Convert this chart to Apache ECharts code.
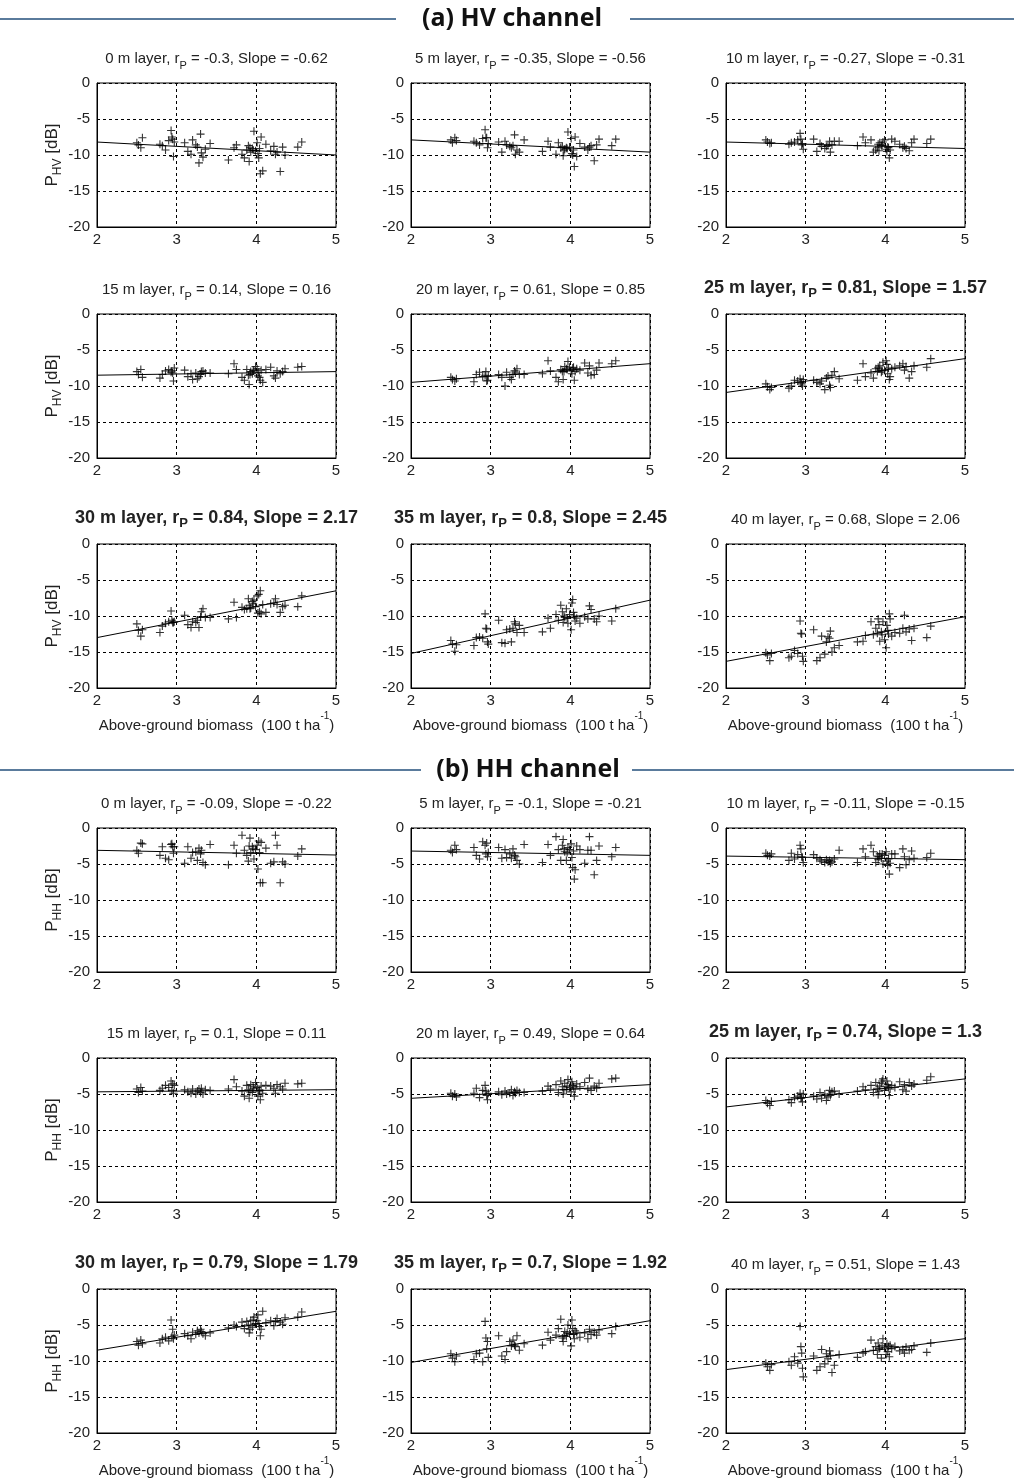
<!DOCTYPE html>
<html>
<head>
<meta charset="utf-8">
<script src="https://cdn.jsdelivr.net/npm/echarts@6/dist/echarts.min.js"></script>
<style>
html,body{margin:0;padding:0;background:#fff;}
#chart{width:1014px;height:1482px;}
</style>
</head>
<body>
<div id="chart"></div>
<script>
// ---------------- DATA ----------------
// Shared above-ground biomass values (100 t/ha) of the sample plots
const biomass = [2.50,2.52,2.55,2.57,2.79,2.82,2.86,2.90,2.93,2.94,2.96,2.97,3.10,3.14,3.18,3.20,3.24,3.26,3.28,3.30,3.31,3.33,3.36,3.42,3.65,3.72,3.75,3.82,3.85,3.88,3.90,3.91,3.93,3.95,3.97,3.99,4.01,4.02,4.03,4.05,4.06,4.08,4.12,4.18,4.22,4.24,4.26,4.30,4.33,4.36,4.52,4.57,3.92,3.96,4.04,2.95];

const layerDepths = [0,5,10,15,20,25,30,35,40];

// HV channel: Pearson r and regression slope per layer
const hvR     = ['-0.3','-0.35','-0.27','0.14','0.61','0.81','0.84','0.8','0.68'];
const hvSlope = ['-0.62','-0.56','-0.31','0.16','0.85','1.57','2.17','2.45','2.06'];
const hvBold  = [false,false,false,false,false,true,true,true,false];
// regression line values at biomass = 2 and biomass = 5
const hvFitAt2 = [-8.2,-7.9,-8.2,-8.5,-9.5,-10.9,-13.0,-15.2,-16.3];
const hvFitAt5 = [-10.0,-9.6,-9.1,-8.0,-6.9,-6.2,-6.5,-7.8,-10.1];

// HH channel
const hhR     = ['-0.09','-0.1','-0.11','0.1','0.49','0.74','0.79','0.7','0.51'];
const hhSlope = ['-0.22','-0.21','-0.15','0.11','0.64','1.3','1.79','1.92','1.43'];
const hhBold  = [false,false,false,false,false,true,true,true,false];
const hhFitAt2 = [-3.1,-3.2,-3.9,-4.7,-5.6,-6.8,-8.5,-10.2,-11.2];
const hhFitAt5 = [-3.75,-3.8,-4.4,-4.4,-3.7,-2.9,-3.1,-4.4,-6.9];

// Backscatter power (dB) per layer, aligned with biomass
const hv0  = [-8.3,-8.6,-9.0,-7.6,-8.5,-8.7,-9.3,-8.0,-6.6,-7.5,-10.2,-8.2,-8.3,-9.5,-9.9,-7.9,-8.6,-8.9,-11.1,-7.1,-9.7,-10.3,-9.2,-8.4,-10.7,-9.0,-8.6,-9.9,-10.4,-9.3,-8.7,-10.9,-9.6,-9.1,-6.7,-9.4,-8.3,-9.8,-10.4,-12.6,-7.5,-12.2,-8.5,-9.4,-8.8,-9.9,-9.6,-12.3,-8.9,-10.0,-8.9,-8.2,-9.0,-9.3,-9.1,-7.8];
const hv5  = [-7.9,-8.3,-7.6,-8.0,-8.1,-8.3,-8.6,-7.7,-6.5,-7.6,-9.0,-8.4,-8.2,-9.6,-8.1,-8.6,-8.8,-9.0,-8.7,-7.2,-9.9,-9.3,-9.6,-7.9,-9.5,-8.1,-8.9,-9.9,-8.3,-9.0,-8.8,-10.1,-9.2,-9.0,-6.8,-8.9,-7.7,-9.8,-10.0,-11.6,-7.5,-10.2,-8.4,-8.9,-9.3,-8.9,-8.7,-10.8,-8.6,-7.8,-8.7,-7.8,-9.4,-9.1,-9.3,-7.6];
const hv10 = [-7.9,-8.2,-8.4,-8.3,-8.5,-8.3,-8.2,-7.9,-7.0,-7.8,-8.4,-9.2,-7.8,-9.5,-8.4,-8.8,-9.1,-8.8,-8.7,-8.1,-9.6,-8.6,-8.1,-8.1,-8.7,-7.5,-8.3,-7.9,-9.6,-9.3,-9.0,-8.5,-8.3,-8.7,-8.2,-7.9,-9.2,-9.5,-8.9,-10.4,-9.3,-7.8,-8.1,-8.5,-9.0,-8.8,-9.1,-9.4,-8.3,-7.8,-8.4,-7.8,-9.4,-8.6,-9.0,-8.6];
const hv15 = [-8.0,-8.4,-7.7,-8.8,-8.9,-8.4,-7.9,-7.7,-8.1,-7.9,-9.3,-7.5,-7.8,-8.7,-8.3,-9.1,-8.2,-9.0,-8.7,-8.4,-8.0,-7.9,-8.2,-8.2,-8.3,-6.9,-7.7,-8.8,-9.2,-7.7,-8.5,-9.8,-8.0,-8.3,-7.8,-7.3,-7.6,-8.6,-8.1,-9.2,-7.8,-9.5,-7.7,-7.4,-8.6,-8.9,-7.9,-8.3,-8.0,-7.6,-7.4,-7.3,-8.4,-7.9,-8.8,-8.2];
const hv20 = [-8.8,-9.1,-9.3,-9.0,-9.4,-8.4,-8.1,-8.7,-8.5,-8.0,-9.2,-8.6,-8.4,-8.8,-10.0,-8.1,-8.8,-9.1,-8.4,-7.9,-8.2,-7.6,-8.4,-8.4,-8.3,-6.5,-7.9,-8.8,-9.4,-7.7,-8.0,-9.1,-7.3,-7.6,-6.6,-7.4,-7.9,-8.3,-7.5,-9.2,-8.0,-7.6,-7.8,-6.8,-8.2,-7.2,-8.5,-8.4,-7.8,-6.8,-6.9,-6.5,-8.0,-7.7,-7.4,-9.3];
const hv25 = [-9.7,-10.1,-10.5,-10.2,-10.3,-10.0,-9.2,-9.3,-9.0,-9.5,-10.0,-9.1,-9.2,-9.5,-9.7,-9.3,-10.5,-8.9,-8.6,-9.9,-10.2,-8.5,-8.0,-9.0,-9.2,-6.9,-8.7,-8.2,-8.9,-7.6,-8.0,-7.4,-7.2,-8.1,-6.7,-7.8,-6.5,-7.0,-8.3,-9.1,-8.7,-7.6,-7.4,-7.2,-6.9,-7.8,-7.3,-8.9,-8.0,-7.2,-7.4,-6.2,-7.6,-7.9,-7.5,-9.7];
const hv30 = [-11.1,-12.0,-12.8,-11.9,-12.3,-11.4,-11.0,-10.8,-9.3,-10.6,-10.9,-10.8,-9.9,-11.2,-11.6,-10.8,-10.9,-10.6,-11.6,-10.1,-9.4,-9.0,-10.2,-10.2,-10.4,-8.1,-10.2,-8.8,-9.1,-9.0,-7.6,-8.5,-8.9,-8.0,-7.8,-8.7,-7.2,-9.6,-7.0,-6.5,-9.7,-8.4,-9.5,-8.3,-8.2,-7.6,-8.4,-9.5,-8.7,-8.5,-8.7,-7.2,-9.0,-8.3,-9.4,-10.9];
const hv35 = [-13.4,-13.9,-14.9,-14.0,-14.1,-13.0,-12.9,-13.1,-9.7,-11.7,-13.6,-13.9,-10.6,-13.7,-13.8,-11.9,-11.8,-13.6,-11.7,-10.8,-11.1,-12.3,-11.3,-12.3,-12.2,-10.3,-11.7,-9.8,-10.6,-8.5,-9.4,-10.9,-10.2,-9.0,-11.0,-9.8,-11.9,-8.2,-7.7,-10.0,-10.7,-10.3,-11.0,-10.1,-10.4,-8.6,-9.1,-10.4,-10.8,-10.0,-10.7,-9.0,-10.0,-10.3,-9.5,-11.8];
const hv40 = [-15.1,-15.4,-16.2,-15.2,-15.8,-15.6,-14.8,-15.2,-10.7,-12.4,-15.6,-16.3,-11.9,-16.2,-15.8,-12.8,-15.3,-13.6,-12.9,-13.1,-12.1,-15.0,-14.4,-14.1,-13.6,-13.5,-12.7,-10.8,-12.6,-11.7,-12.4,-10.4,-13.5,-12.2,-10.8,-13.3,-14.4,-11.3,-12.0,-9.7,-10.4,-12.8,-12.3,-12.4,-11.7,-9.9,-12.2,-11.8,-13.4,-11.7,-13.0,-11.4,-11.2,-12.6,-12.5,-12.5];

const hh0  = [-3.1,-3.5,-2.1,-2.2,-3.8,-2.6,-4.2,-4.4,-2.3,-2.2,-3.5,-2.6,-4.9,-2.6,-4.2,-3.4,-3.3,-4.5,-2.8,-3.6,-3.1,-4.8,-5.1,-2.3,-5.1,-2.4,-3.5,-1.0,-3.1,-3.8,-4.6,-2.5,-3.4,-2.6,-4.3,-3.0,-2.4,-5.7,-1.8,-7.6,-2.0,-7.6,-2.8,-4.9,-4.7,-1.0,-2.4,-7.6,-4.7,-5.0,-3.9,-2.9,-1.4,-2.9,-3.4,-2.6];
const hh5  = [-3.1,-3.4,-2.4,-3.0,-2.7,-3.8,-4.3,-1.9,-2.4,-3.6,-4.0,-3.4,-2.7,-4.2,-3.0,-4.1,-3.6,-4.2,-2.9,-3.8,-4.0,-4.5,-5.0,-2.3,-4.8,-2.3,-3.8,-1.2,-3.0,-4.5,-2.4,-1.6,-3.3,-4.5,-2.7,-3.0,-2.2,-4.1,-5.5,-7.1,-5.8,-2.5,-3.0,-4.9,-3.1,-1.2,-3.1,-6.5,-4.5,-2.5,-4.0,-2.7,-2.9,-3.4,-3.2,-2.1];
const hh10 = [-3.5,-3.8,-3.9,-3.6,-4.5,-3.5,-4.3,-3.7,-2.4,-2.9,-4.1,-4.8,-3.7,-4.2,-4.4,-4.6,-4.8,-4.4,-4.7,-4.5,-4.9,-4.7,-4.3,-3.1,-4.8,-2.9,-4.0,-2.4,-3.3,-4.8,-3.9,-4.4,-3.6,-4.2,-5.0,-3.8,-3.3,-4.6,-5.2,-6.4,-4.9,-3.6,-3.6,-5.5,-2.9,-4.0,-5.1,-4.4,-3.2,-4.2,-4.1,-3.5,-4.0,-3.6,-4.3,-4.0];
const hh15 = [-4.3,-4.8,-4.1,-4.6,-4.5,-4.2,-3.8,-4.1,-3.2,-4.5,-4.9,-3.8,-4.4,-4.7,-4.9,-4.3,-5.0,-4.6,-4.3,-4.8,-4.2,-5.0,-4.4,-4.5,-4.3,-3.0,-4.0,-4.6,-5.3,-3.8,-4.4,-5.6,-3.7,-4.8,-4.2,-3.4,-4.1,-5.3,-4.6,-5.8,-3.9,-4.9,-3.8,-3.9,-4.2,-4.9,-3.7,-4.0,-4.3,-3.5,-3.6,-3.5,-4.7,-4.0,-4.5,-3.6];
const hh20 = [-4.9,-5.3,-5.0,-5.4,-4.9,-4.2,-5.5,-4.5,-3.8,-4.6,-5.8,-4.9,-4.7,-5.1,-4.6,-5.0,-4.9,-4.4,-5.2,-4.7,-4.9,-4.5,-4.8,-4.8,-4.6,-3.9,-4.3,-3.7,-4.8,-3.2,-4.0,-5.0,-3.5,-4.4,-3.0,-4.1,-4.7,-3.3,-3.8,-5.3,-4.3,-3.6,-4.0,-3.4,-4.3,-2.8,-4.5,-3.9,-4.2,-3.5,-2.9,-2.8,-4.4,-3.9,-4.0,-5.2];
const hh25 = [-5.9,-6.3,-6.6,-6.0,-5.8,-6.2,-5.5,-5.3,-4.9,-5.6,-6.1,-5.0,-5.3,-5.7,-4.8,-5.6,-5.0,-5.9,-5.4,-4.5,-5.2,-4.7,-4.6,-5.0,-4.6,-4.0,-4.4,-3.8,-4.8,-3.4,-4.2,-5.1,-3.9,-3.5,-2.9,-4.5,-4.0,-3.2,-3.7,-5.2,-4.3,-3.8,-4.1,-3.3,-4.4,-3.7,-4.6,-3.4,-3.9,-3.6,-3.1,-2.6,-4.6,-3.2,-4.1,-5.5];
const hh30 = [-7.3,-7.8,-7.1,-7.6,-7.5,-6.9,-6.7,-7.2,-4.3,-6.6,-6.9,-6.4,-6.2,-6.5,-6.9,-6.0,-6.3,-5.8,-6.1,-5.6,-5.9,-6.2,-6.5,-6.1,-5.4,-5.0,-5.2,-4.6,-5.5,-4.5,-5.0,-6.1,-4.4,-5.3,-3.9,-4.8,-4.4,-3.6,-4.8,-6.5,-5.6,-3.1,-4.7,-4.4,-5.1,-4.5,-4.1,-4.6,-4.9,-4.0,-3.9,-3.2,-5.6,-4.3,-5.2,-5.6];
const hh35 = [-9.0,-9.6,-10.1,-9.3,-9.8,-9.0,-8.9,-10.1,-4.5,-6.8,-7.3,-9.5,-6.5,-9.3,-9.8,-8.7,-7.3,-7.9,-7.1,-7.8,-8.0,-6.5,-8.5,-7.6,-7.8,-6.0,-7.1,-6.4,-5.5,-4.2,-6.8,-7.3,-5.9,-6.6,-5.0,-6.2,-7.9,-4.3,-5.5,-6.9,-5.8,-6.0,-6.7,-6.1,-6.9,-5.6,-6.3,-6.0,-6.4,-5.7,-6.2,-5.2,-6.5,-6.1,-6.3,-8.3];
const hh40 = [-10.3,-10.8,-11.3,-10.5,-10.1,-10.6,-9.4,-10.3,-5.2,-8.0,-11.0,-12.2,-9.3,-11.3,-10.8,-8.4,-10.4,-9.0,-9.7,-8.6,-9.2,-11.6,-10.6,-9.1,-9.5,-8.9,-8.7,-7.1,-8.5,-8.0,-9.1,-7.5,-8.2,-9.6,-6.9,-8.1,-9.1,-7.6,-8.7,-9.4,-7.8,-8.3,-8.0,-8.6,-8.4,-8.9,-8.1,-8.5,-8.4,-7.9,-8.8,-7.5,-8.3,-7.9,-8.0,-8.9];

const hvSeries = [hv0,hv5,hv10,hv15,hv20,hv25,hv30,hv35,hv40];
const hhSeries = [hh0,hh5,hh10,hh15,hh20,hh25,hh30,hh35,hh40];

const xTicks = {min:2, max:5, interval:1};
const yTicks = {min:-20, max:0, interval:5};

// ---------------- LAYOUT ----------------
const colLeft = [97, 411, 726];
const rowTop  = [83, 314, 544, 828, 1058, 1289];
const plotW = 239, plotH = 144;
const FONT = "'Liberation Sans', Arial, sans-serif";

const chart = echarts.init(document.getElementById('chart'), null, {renderer:'canvas'});

const grids = [], xAxes = [], yAxes = [], series = [], titles = [];

const channels = [
  {key:'HV', ys:hvSeries, r:hvR, slope:hvSlope, bold:hvBold, f2:hvFitAt2, f5:hvFitAt5, rowOffset:0},
  {key:'HH', ys:hhSeries, r:hhR, slope:hhSlope, bold:hhBold, f2:hhFitAt2, f5:hhFitAt5, rowOffset:3}
];

let gi = 0;
channels.forEach(ch => {
  layerDepths.forEach((depth, k) => {
    const row = ch.rowOffset + Math.floor(k / 3);
    const col = k % 3;
    const left = colLeft[col], top = rowTop[row];
    const bold = ch.bold[k];
    grids.push({left:left, top:top, width:plotW, height:plotH, show:true, borderColor:'#000', borderWidth:1, backgroundColor:'#fff'});
    const isBottom = (k >= 6);
    xAxes.push({
      gridIndex:gi, type:'value', min:xTicks.min, max:xTicks.max, interval:xTicks.interval,
      axisLine:{show:true, onZero:false, lineStyle:{color:'#000', width:1}},
      axisTick:{show:false},
      axisLabel:{color:'#222', fontSize:15, fontFamily:FONT, margin:5},
      splitLine:{show:true, lineStyle:{color:'#000', width:1, type:[3,3]}},
      name: isBottom ? '{n|Above-ground biomass  (100 t ha}{sup|-1}{n|)}' : '',
      nameLocation:'middle', nameGap:23,
      nameTextStyle:{rich:{
        n:{fontSize:15, fontFamily:FONT, color:'#222', lineHeight:22, verticalAlign:'bottom'},
        sup:{fontSize:10, fontFamily:FONT, color:'#222', lineHeight:22, verticalAlign:'top'}
      }}
    });
    yAxes.push({
      gridIndex:gi, type:'value', min:yTicks.min, max:yTicks.max, interval:yTicks.interval,
      axisLine:{show:true, onZero:false, lineStyle:{color:'#000', width:1}},
      axisTick:{show:false},
      axisLabel:{color:'#222', fontSize:15, fontFamily:FONT, margin:7},
      splitLine:{show:true, lineStyle:{color:'#000', width:1, type:[3,3]}},
      name: col === 0 ? ('{n|P}{s|' + ch.key + '}{n| [dB]}') : '',
      nameLocation:'middle', nameGap:33, nameRotate:90,
      nameTextStyle:{rich:{
        n:{fontSize:17, fontFamily:FONT, color:'#222', lineHeight:24, verticalAlign:'middle'},
        s:{fontSize:12, fontFamily:FONT, color:'#222', lineHeight:24, verticalAlign:'bottom'}
      }}
    });
    const fs = bold ? 18 : 15;
    const fw = bold ? 'bold' : 'normal';
    titles.push({
      text: '{n|' + depth + ' m layer, r}{s|P}{n| = ' + ch.r[k] + ', Slope = ' + ch.slope[k] + '}',
      left: left + plotW / 2, top: top - (bold ? 38 : 36), textAlign:'center',
      padding:0,
      textStyle:{rich:{
        n:{fontSize:fs, fontWeight:fw, fontFamily:FONT, color:'#222', lineHeight:24, verticalAlign:'middle'},
        s:{fontSize:bold ? 13 : 11, fontWeight:fw, fontFamily:FONT, color:'#222', lineHeight:24, verticalAlign:'bottom'}
      }}
    });
    series.push({
      type:'scatter', xAxisIndex:gi, yAxisIndex:gi,
      data: biomass.map((x, i) => [x, ch.ys[k][i]]),
      symbol:'path://M0,5L10,5M5,0L5,10', symbolSize:8,
      itemStyle:{color:'rgba(0,0,0,0)', borderColor:'#000', borderWidth:1.1},
      silent:true, z:3
    });
    series.push({
      type:'line', xAxisIndex:gi, yAxisIndex:gi,
      data: [[2, ch.f2[k]], [5, ch.f5[k]]],
      showSymbol:false, symbol:'none',
      lineStyle:{color:'#000', width:1}, silent:true, z:4
    });
    gi++;
  });
});

const headerLine = '#5a7b9c';
const HFONT = "bold 25px 'Open Sans', sans-serif";
const graphic = [
  {type:'line', shape:{x1:0, y1:19, x2:396, y2:19}, style:{stroke:headerLine, lineWidth:2}},
  {type:'line', shape:{x1:630, y1:19, x2:1014, y2:19}, style:{stroke:headerLine, lineWidth:2}},
  {type:'text', x:512, y:19, style:{text:'(a) HV channel', font:HFONT, fill:'#111', textAlign:'center', textVerticalAlign:'middle'}},
  {type:'line', shape:{x1:0, y1:770, x2:421, y2:770}, style:{stroke:headerLine, lineWidth:2}},
  {type:'line', shape:{x1:632, y1:770, x2:1014, y2:770}, style:{stroke:headerLine, lineWidth:2}},
  {type:'text', x:528, y:770, style:{text:'(b) HH channel', font:HFONT, fill:'#111', textAlign:'center', textVerticalAlign:'middle'}}
];

chart.setOption({
  animation:false,
  backgroundColor:'#fff',
  title: titles,
  grid: grids,
  xAxis: xAxes,
  yAxis: yAxes,
  series: series,
  graphic: graphic
});
</script>
</body>
</html>
